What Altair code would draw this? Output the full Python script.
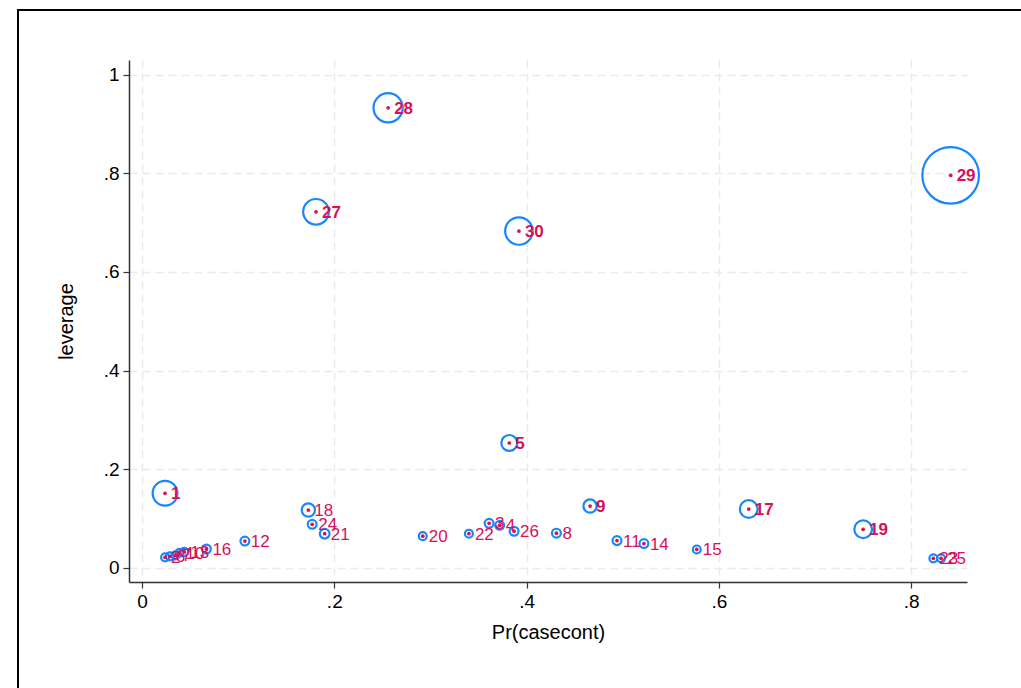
import altair as alt
import pandas as pd

ids = list(range(1, 31))
pr_casecont = [0.024, 0.024, 0.361, 0.372, 0.382, 0.029, 0.035, 0.431, 0.466, 0.039,
               0.494, 0.107, 0.044, 0.522, 0.577, 0.067, 0.631, 0.173, 0.750, 0.292,
               0.190, 0.340, 0.823, 0.177, 0.831, 0.387, 0.181, 0.256, 0.841, 0.392]
leverage = [0.151, 0.021, 0.090, 0.086, 0.253, 0.023, 0.025, 0.070, 0.125, 0.030,
            0.055, 0.054, 0.032, 0.049, 0.037, 0.038, 0.119, 0.117, 0.078, 0.064,
            0.069, 0.069, 0.019, 0.088, 0.019, 0.074, 0.722, 0.933, 0.796, 0.683]
weight = [1.96, 0.20, 0.25, 0.25, 0.81, 0.20, 0.20, 0.25, 0.56, 0.20,
          0.25, 0.25, 0.20, 0.25, 0.20, 0.25, 1.00, 0.56, 1.00, 0.20,
          0.30, 0.20, 0.20, 0.25, 0.20, 0.25, 2.10, 2.72, 10.2, 2.40]
bold_ids = [1, 5, 9, 17, 19, 27, 28, 29, 30]

df = pd.DataFrame({
    "id": ids,
    "label": [str(i) for i in ids],
    "p": pr_casecont,
    "lev": leverage,
    "w": weight,
    "bold": [i in bold_ids for i in ids],
})

BLUE = "#1a85ff"
RED = "#d41159"
FONT = "Liberation Sans"

W, H = 838, 522

x_enc = alt.X("p:Q", title="Pr(casecont)",
              scale=alt.Scale(domain=[-0.0135, 0.858], nice=False, zero=False),
              axis=alt.Axis(values=[0, 0.2, 0.4, 0.6, 0.8],
                            labelExpr="datum.value == 0 ? '0' : substring(format(datum.value, '.1f'), 1)"))
y_enc = alt.Y("lev:Q", title="leverage",
              scale=alt.Scale(domain=[-0.029, 1.03], nice=False, zero=False),
              axis=alt.Axis(values=[0, 0.2, 0.4, 0.6, 0.8, 1.0],
                            labelExpr="datum.value == 0 ? '0' : datum.value == 1 ? '1' : substring(format(datum.value, '.1f'), 1)"))

base = alt.Chart(df)

frame = base.mark_rect(fill=None, stroke="black", strokeWidth=2, clip=False).encode(
    x=alt.value(-111), x2=alt.value(W + 200), y=alt.value(-50), y2=alt.value(H + 200)
).transform_filter("datum.id == 1")

circles = base.mark_point(shape="circle", filled=False, color=BLUE, strokeWidth=2.2, opacity=1).encode(
    x=x_enc, y=y_enc,
    size=alt.Size("w:Q", scale=alt.Scale(type="linear", domain=[0, 10], range=[0, 3141.6]), legend=None),
)

dots = base.mark_point(shape="circle", filled=True, color=RED, size=14, opacity=1).encode(
    x=x_enc, y=y_enc
)

labels = base.mark_text(align="left", baseline="middle", dx=6, dy=1, fontSize=17, font=FONT,
                        color=RED).encode(
    x=x_enc, y=y_enc, text="label:N"
).transform_filter("!datum.bold")

labels_bold = base.mark_text(align="left", baseline="middle", dx=6, dy=1, fontSize=17, font=FONT,
                             fontWeight="bold", color=RED).encode(
    x=x_enc, y=y_enc, text="label:N"
).transform_filter("datum.bold")

chart = alt.layer(frame, circles, dots, labels, labels_bold).properties(
    width=W, height=H,
    autosize=alt.AutoSizeParams(type="none"),
    padding={"left": 129, "top": 60, "right": 54, "bottom": 106},
    background="white",
).configure_view(stroke=None).configure_axis(
    grid=True, gridColor="#eaeaea", gridDash=[8, 5], gridWidth=1.5,
    domainColor="#333333", domainWidth=1.5,
    tickColor="#333333", tickWidth=1.2, tickSize=6,
    labelFont=FONT, labelFontSize=19, labelColor="black",
    titleFont=FONT, titleFontSize=20, titleFontWeight="normal", titleColor="black",
).configure_axisX(labelPadding=4, titlePadding=11).configure_axisY(
    labelPadding=4, titlePadding=27, labelAngle=0
)

chart.save("out.html", embed_options={"renderer": "svg", "actions": False})
